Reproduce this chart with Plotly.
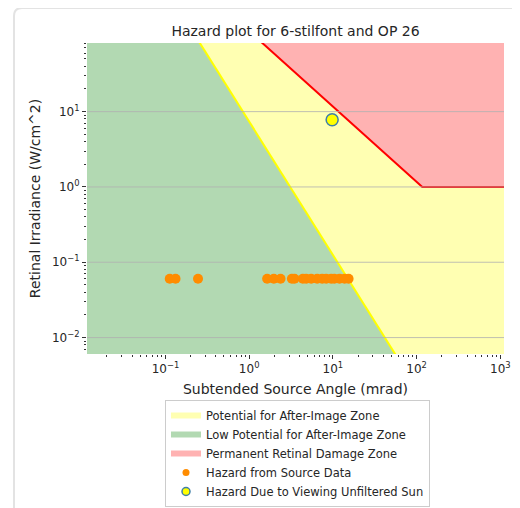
import plotly.graph_objects as go

# ---- data ----
source_angle = [0.1125, 0.132, 0.245, 1.64, 1.97, 2.37, 3.24, 3.48, 4.38, 4.80,
                5.51, 6.49, 7.45, 8.32, 9.55, 10.4, 12.0, 13.8, 15.4]
source_irr = [0.0605] * len(source_angle)

sun_angle = [9.8]
sun_irr = [7.8]

# after-image threshold line (yellow)
after_x = [0.155, 70.0]
after_y = [200.0, 0.004]
# permanent retinal damage line (red)
burn_x = [0.585, 117.0, 2000.0]
burn_y = [200.0, 1.0, 1.0]

x_lo, x_hi = 0.001, 2000.0
y_lo, y_hi = after_y[-1], after_y[0]

x_tickvals = [0.1, 1, 10, 100, 1000]
x_ticktext = ["10<sup>\u22121</sup>", "10<sup>0</sup>", "10<sup>1</sup>", "10<sup>2</sup>", "10<sup>3</sup>"]
y_tickvals = [0.01, 0.1, 1, 10]
y_ticktext = ["10<sup>\u22122</sup>", "10<sup>\u22121</sup>", "10<sup>0</sup>", "10<sup>1</sup>"]

FONT = "DejaVu Sans"
TXT = "#262626"

fig = go.Figure()

# yellow zone polygon: right of yellow line, below red line
yz_x = after_x + [x_hi] + burn_x[::-1]
yz_y = after_y + [y_lo] + burn_y[::-1]
fig.add_trace(go.Scatter(x=yz_x, y=yz_y, fill="toself", mode="none",
                         fillcolor="rgba(255,255,0,0.3)",
                         name="Potential for After-Image Zone"))
# green zone: left of yellow line
gz_x = [x_lo] + after_x + [x_lo]
gz_y = [y_hi] + after_y + [y_lo]
fig.add_trace(go.Scatter(x=gz_x, y=gz_y, fill="toself", mode="none",
                         fillcolor="rgba(0,128,0,0.3)",
                         name="Low Potential for After-Image Zone"))
# red zone: above red line
rz_x = burn_x + [x_hi]
rz_y = burn_y + [y_hi]
fig.add_trace(go.Scatter(x=rz_x, y=rz_y, fill="toself", mode="none",
                         fillcolor="rgba(255,0,0,0.3)",
                         name="Permanent Retinal Damage Zone"))

# boundary lines
fig.add_trace(go.Scatter(x=after_x, y=after_y, mode="lines",
                         line=dict(color="#ffff00", width=2), showlegend=False))
fig.add_trace(go.Scatter(x=burn_x, y=burn_y, mode="lines",
                         line=dict(color="#ff0000", width=2), showlegend=False))

ORANGE = "#ff8c00"
SUN_EDGE = "#3f7fa8"
fig.add_trace(go.Scatter(x=source_angle, y=source_irr, mode="markers",
                         marker=dict(color=ORANGE, size=10, line=dict(width=0)),
                         showlegend=False))
fig.add_trace(go.Scatter(x=sun_angle, y=sun_irr, mode="markers",
                         marker=dict(color="#ffff00", size=12,
                                     line=dict(color=SUN_EDGE, width=1.5)),
                         showlegend=False))
# legend entries for the point series (smaller legend symbols)
fig.add_trace(go.Scatter(x=[None], y=[None], mode="markers",
                         marker=dict(color=ORANGE, size=7),
                         name="Hazard from Source Data"))
fig.add_trace(go.Scatter(x=[None], y=[None], mode="markers",
                         marker=dict(color="#ffff00", size=8,
                                     line=dict(color=SUN_EDGE, width=1.5)),
                         name="Hazard Due to Viewing Unfiltered Sun"))

minor_vals = [m * 10 ** e for e in range(-3, 4) for m in range(2, 10)]

common = dict(type="log", showline=False, zeroline=False, ticks="outside",
              ticklen=4, tickwidth=1, tickcolor="#333", showgrid=False,
              tickfont=dict(family=FONT, size=12, color=TXT),
              minor=dict(tickmode="array", tickvals=minor_vals, ticks="outside",
                         ticklen=2, tickcolor="#333", showgrid=False))

fig.update_xaxes(**common, range=[-1.937, 3.044], tickmode="array",
                 tickvals=x_tickvals, ticktext=x_ticktext,
                 title=dict(text="Subtended Source Angle (mrad)",
                            font=dict(family=FONT, size=14, color=TXT), standoff=8))
fig.update_yaxes(**common, range=[-2.218, 1.911], tickmode="array",
                 tickvals=y_tickvals, ticktext=y_ticktext,
                 title=dict(text="Retinal Irradiance (W/cm^2)",
                            font=dict(family=FONT, size=14, color=TXT), standoff=8))

# figure pixel geometry (page is offset by the 8px body margin)
L, T, PW, PH = 79, 35, 417, 311
def px(x):
    return (x - L) / PW
def py(y):
    return (T + PH - y) / PH

card = "M {a},{b} L {a},{c} Q {a},{d} {e},{d} L {f},{d}".format(
    a=px(6), b=py(520), c=py(8), d=py(0), e=px(14), f=px(530))

shapes = [dict(type="path", xref="paper", yref="paper", path=card,
               line=dict(color="#e3e3e3", width=2), layer="below")]
for v in y_tickvals:
    shapes.append(dict(type="line", xref="paper", yref="y", x0=0, x1=1, y0=v, y1=v,
                       line=dict(color="rgba(176,176,176,0.8)", width=1), layer="above"))

fig.update_layout(
    width=512, height=500,
    margin=dict(l=L, r=512 - L - PW, t=T, b=500 - T - PH, autoexpand=False),
    paper_bgcolor="white", plot_bgcolor="white",
    font=dict(family=FONT, color=TXT),
    title=dict(text="Hazard plot for 6-stilfont and OP 26", xref="paper", x=0.5,
               xanchor="center", y=1 - 23 / 500, yanchor="middle",
               font=dict(family=FONT, size=14, color=TXT)),
    legend=dict(x=px(157), y=py(392), xanchor="left", yanchor="top",
                bgcolor="white", bordercolor="#cccccc", borderwidth=1,
                font=dict(family=FONT, size=11.5, color=TXT),
                tracegroupgap=0),
    shapes=shapes,
    showlegend=True,
)

fig.write_html("out.html")
